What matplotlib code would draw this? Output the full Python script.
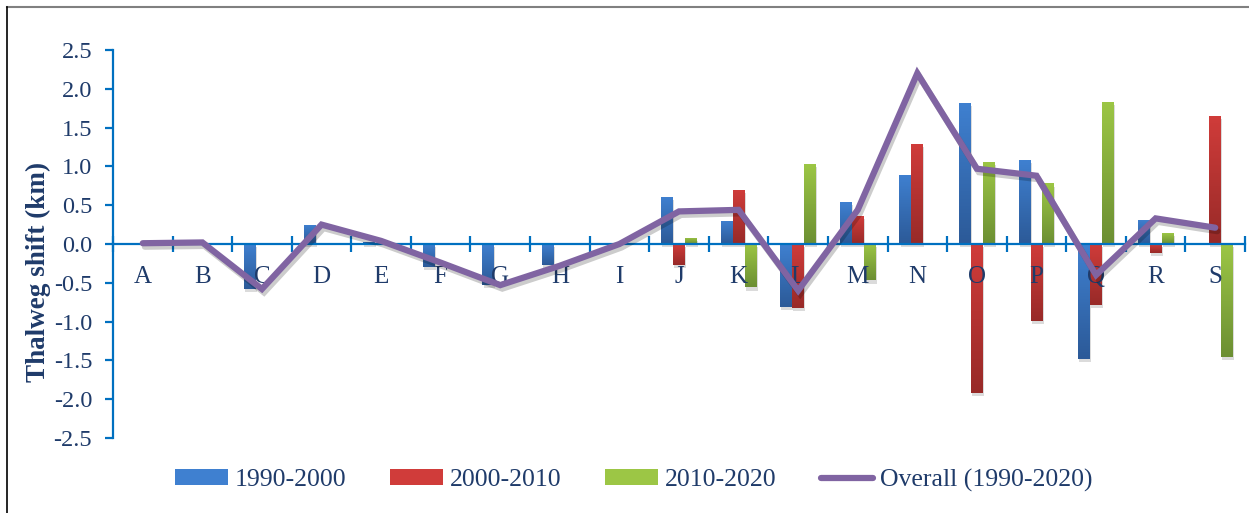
import numpy as np
import matplotlib
matplotlib.use("Agg")
import matplotlib.pyplot as plt
import matplotlib.patheffects as pe
from matplotlib.colors import LinearSegmentedColormap
from matplotlib.lines import Line2D
from matplotlib.patches import Patch

# Thalweg shift per cross-section (km)
sections = list("ABCDEFGHIJKLMNOPQRS")
shift_1990_2000 = [0, 0, -0.58, 0.25, 0.03, -0.30, -0.53, -0.27, 0, 0.61,
                   0.30, -0.81, 0.54, 0.89, 1.82, 1.08, -1.48, 0.31, 0]
shift_2000_2010 = [0, 0, 0, 0, 0, 0, 0, 0, 0, -0.27,
                   0.70, -0.82, 0.36, 1.29, -1.92, -0.99, -0.79, -0.11, 1.65]
shift_2010_2020 = [0, 0, 0, 0, 0, 0, 0, 0, 0, 0.08,
                   -0.56, 1.03, -0.47, 0, 1.06, 0.78, 1.83, 0.14, -1.45]
shift_overall = [0.01, 0.02, -0.58, 0.25, 0.04, -0.24, -0.53, -0.28, 0.0, 0.42,
                 0.44, -0.60, 0.44, 2.20, 0.97, 0.88, -0.40, 0.33, 0.21]
series_names = ["1990-2000", "2000-2010", "2010-2020", "Overall (1990-2020)"]

# (light top, dark bottom) for the gradient fills
bar_colors = [("#3f80d0", "#2c5a98"), ("#d03c3a", "#982a28"), ("#9cc645", "#6c8f33")]
line_color = "#8064a2"
axis_color = "#0070c0"
text_color = "#1f3b6a"

plt.rcParams["font.family"] = ["Liberation Serif", "DejaVu Serif"]

fig = plt.figure(figsize=(12.49, 5.13), dpi=100)
ax = fig.add_axes([113 / 1249, 75 / 513, (1245 - 113) / 1249, 388 / 513])

x = np.arange(len(sections))
w = 0.2
shadow = [pe.SimplePatchShadow(offset=(0.8, -2.2), shadow_rgbFace="k", alpha=0.14), pe.Normal()]

for i, vals in enumerate([shift_1990_2000, shift_2000_2010, shift_2010_2020]):
    top, bottom = bar_colors[i]
    cmap = LinearSegmentedColormap.from_list("g%d" % i, [bottom, top])
    bars = ax.bar(x + (i - 1) * w, vals, width=w, color=top, linewidth=0, zorder=1)
    for r in bars:
        if r.get_height() == 0:
            r.set_visible(False)
            continue
        r.set_path_effects(shadow)
        x0, x1 = r.get_x(), r.get_x() + r.get_width()
        y0, y1 = sorted([r.get_y(), r.get_y() + r.get_height()])
        im = ax.imshow(np.linspace(0, 1, 64).reshape(-1, 1), cmap=cmap, origin="lower",
                       extent=(x0, x1, y0, y1), aspect="auto", zorder=1.1)
        im.set_clip_path(r)

ax.plot(x, shift_overall, color=line_color, lw=4.5, solid_capstyle="round",
        solid_joinstyle="miter", zorder=3,
        path_effects=[pe.SimpleLineShadow(offset=(1.5, -2.5), alpha=0.2), pe.Normal()])

ax.set_xlim(-0.5, len(sections) - 0.5)
ax.set_ylim(-2.5, 2.5)

# spines: y on the left, x through zero
for s in ["top", "right"]:
    ax.spines[s].set_visible(False)
ax.spines["left"].set_color(axis_color)
ax.spines["left"].set_linewidth(1.6)
ax.spines["bottom"].set_color(axis_color)
ax.spines["bottom"].set_linewidth(1.6)
ax.spines["bottom"].set_position(("data", 0))

ax.set_yticks(np.arange(-2.5, 2.51, 0.5))
ax.set_yticklabels(["%.1f" % v for v in np.arange(-2.5, 2.51, 0.5)])
ax.tick_params(axis="y", direction="out", length=6, width=1.6, color=axis_color,
               labelsize=17.5, labelcolor=text_color, pad=9)

# boundary ticks crossing the axis, section names at centres
ax.set_xticks(np.arange(-0.5, len(sections), 1.0))
ax.set_xticklabels([])
ax.tick_params(axis="x", which="major", direction="inout", length=11, width=1.6,
               color=axis_color)
ax.set_xticks(x, minor=True)
ax.set_xticklabels(sections, minor=True)
ax.tick_params(axis="x", which="minor", length=0, pad=16, labelsize=18,
               labelcolor=text_color)

fig.text(38 / 1249, 1 - 272 / 513, "Thalweg shift (km)", rotation=90, ha="center",
         va="center", fontsize=19.5, fontweight="bold", color=text_color)

handles = [Patch(facecolor=c[0], edgecolor="none") for c in bar_colors]
handles.append(Line2D([0], [0], color=line_color, lw=4.5, solid_capstyle="round"))
leg = fig.legend(handles, series_names, loc="center", bbox_to_anchor=(634 / 1249, 1 - 480 / 513),
                 ncol=4, frameon=False, fontsize=18.5, handlelength=2.05, handleheight=0.55,
                 handletextpad=0.28, columnspacing=1.7, borderaxespad=0)
for t in leg.get_texts():
    t.set_color(text_color)

# frame lines along the top and left edges
fig.add_artist(Line2D([7 / 1249, 1], [1 - 7 / 513] * 2, color="#808080", lw=1.5))
fig.add_artist(Line2D([7 / 1249] * 2, [0, 1 - 7 / 513], color="black", lw=1.2))

fig.savefig("out.png", dpi=100)
